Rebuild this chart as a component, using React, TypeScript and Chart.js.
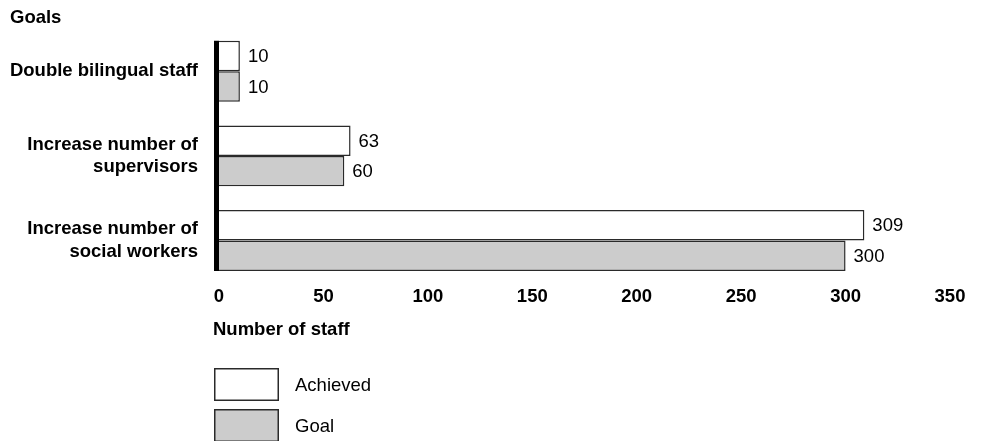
import React, { useEffect, useRef } from "react";
import { Chart, registerables } from "chart.js";

Chart.register(...registerables);

const categories: (string | string[])[] = [
  "Double bilingual staff",
  ["Increase number of", "supervisors"],
  ["Increase number of", "social workers"],
];
const seriesNames = ["Achieved", "Goal"];
const achieved = [10, 63, 309];
const goal = [10, 60, 300];
const xTickValues = [0, 50, 100, 150, 200, 250, 300, 350];
const chartTitle = "Goals";
const xAxisTitle = "Number of staff";

const FONT = "'Liberation Sans', Arial, Helvetica, sans-serif";
const FS = 18.5;
const EDGE = "#2a2a2a";

const axisLinePlugin = {
  id: "axisLine",
  afterDatasetsDraw(chart: any) {
    const n = chart.data.datasets.length;
    const m0 = chart.getDatasetMeta(0);
    const m1 = chart.getDatasetMeta(n - 1);
    const first = m0.data[0];
    const last = m1.data[m1.data.length - 1];
    if (!first || !last) return;
    const top = first.y - first.height / 2;
    const bottom = last.y + last.height / 2;
    const x = chart.chartArea.left - 2.5;
    const ctx = chart.ctx;
    ctx.save();
    ctx.strokeStyle = "#000";
    ctx.lineWidth = 5;
    ctx.beginPath();
    ctx.moveTo(x, top);
    ctx.lineTo(x, bottom);
    ctx.stroke();
    ctx.restore();
  },
};

const valueLabelPlugin = {
  id: "valueLabels",
  afterDatasetsDraw(chart: any) {
    const ctx = chart.ctx;
    ctx.save();
    ctx.font = `${FS}px ${FONT}`;
    ctx.fillStyle = "#000";
    ctx.textAlign = "left";
    ctx.textBaseline = "middle";
    chart.data.datasets.forEach((ds: any, di: number) => {
      const meta = chart.getDatasetMeta(di);
      meta.data.forEach((bar: any, i: number) => {
        ctx.fillText(String(ds.data[i]), bar.x + 8, bar.y + 1);
      });
    });
    ctx.restore();
  },
};

const boxLegendPlugin = {
  id: "boxLegend",
  afterDraw(chart: any) {
    const ctx = chart.ctx;
    const left = chart.chartArea.left - 5;
    ctx.save();
    // x-axis title
    ctx.fillStyle = "#000";
    ctx.font = `bold ${FS}px ${FONT}`;
    ctx.textAlign = "left";
    ctx.textBaseline = "middle";
    ctx.fillText(xAxisTitle, left - 1, chart.chartArea.bottom + 47);

    const top0 = 368;
    const bw = 65;
    const bh = 33;
    const gap = 8;
    chart.data.datasets.forEach((ds: any, i: number) => {
      const top = top0 + i * (bh + gap);
      ctx.fillStyle = ds.backgroundColor;
      ctx.fillRect(left, top, bw, bh);
      ctx.strokeStyle = EDGE;
      ctx.lineWidth = 1.5;
      ctx.strokeRect(left + 0.75, top + 0.75, bw - 1.5, bh - 1.5);
      ctx.fillStyle = "#000";
      ctx.font = `${FS}px ${FONT}`;
      ctx.textAlign = "left";
      ctx.textBaseline = "middle";
      ctx.fillText(ds.label, left + 81, top + bh / 2 + 1);
    });
    ctx.restore();
  },
};

export default function App() {
  const canvasRef = useRef<HTMLCanvasElement | null>(null);

  useEffect(() => {
    if (!canvasRef.current) return;
    Chart.defaults.font.family = FONT;
    const chart = new Chart(canvasRef.current, {
      type: "bar",
      data: {
        labels: categories as any,
        datasets: [
          {
            label: seriesNames[0],
            data: achieved,
            backgroundColor: "#ffffff",
            borderColor: EDGE,
            borderWidth: 1.5,
            categoryPercentage: 0.72,
            barPercentage: 1.0,
          },
          {
            label: seriesNames[1],
            data: goal,
            backgroundColor: "#cccccc",
            borderColor: EDGE,
            borderWidth: 1.5,
            categoryPercentage: 0.72,
            barPercentage: 1.0,
          },
        ],
      },
      options: {
        indexAxis: "y",
        animation: false,
        responsive: true,
        maintainAspectRatio: false,
        layout: { padding: { left: 10, right: 33, top: 0, bottom: 129 } },
        plugins: {
          legend: { display: false },
          tooltip: { enabled: false },
          title: {
            display: true,
            text: chartTitle,
            align: "start",
            color: "#000",
            font: { size: FS, weight: "bold", lineHeight: 1 },
            padding: { top: 9, bottom: 1.5 },
          },
        },
        scales: {
          x: {
            type: "linear",
            min: 0,
            max: 350,
            afterBuildTicks: (scale: any) => {
              scale.ticks = xTickValues.map((v) => ({ value: v }));
            },
            grid: { display: false, drawTicks: false },
            border: { display: false },
            ticks: {
              color: "#000",
              font: { size: FS, weight: "bold", lineHeight: 1.2 },
              padding: 3.5,
              maxRotation: 0,
            },
          },
          y: {
            grid: { display: false, drawTicks: false },
            border: { display: false },
            afterFit: (scale: any) => {
              scale.width = 209;
              scale.paddingTop = 0;
              scale.paddingBottom = 0;
            },
            ticks: {
              color: "#000",
              font: { size: FS, weight: "bold", lineHeight: 1.2 },
              padding: 21,
            },
          },
        },
      },
      plugins: [axisLinePlugin, valueLabelPlugin, boxLegendPlugin],
    });
    return () => chart.destroy();
  }, []);

  return (
    <div style={{ position: "absolute", left: 0, top: 0, width: 983, height: 441, background: "#fff" }}>
      <canvas ref={canvasRef} />
    </div>
  );
}
